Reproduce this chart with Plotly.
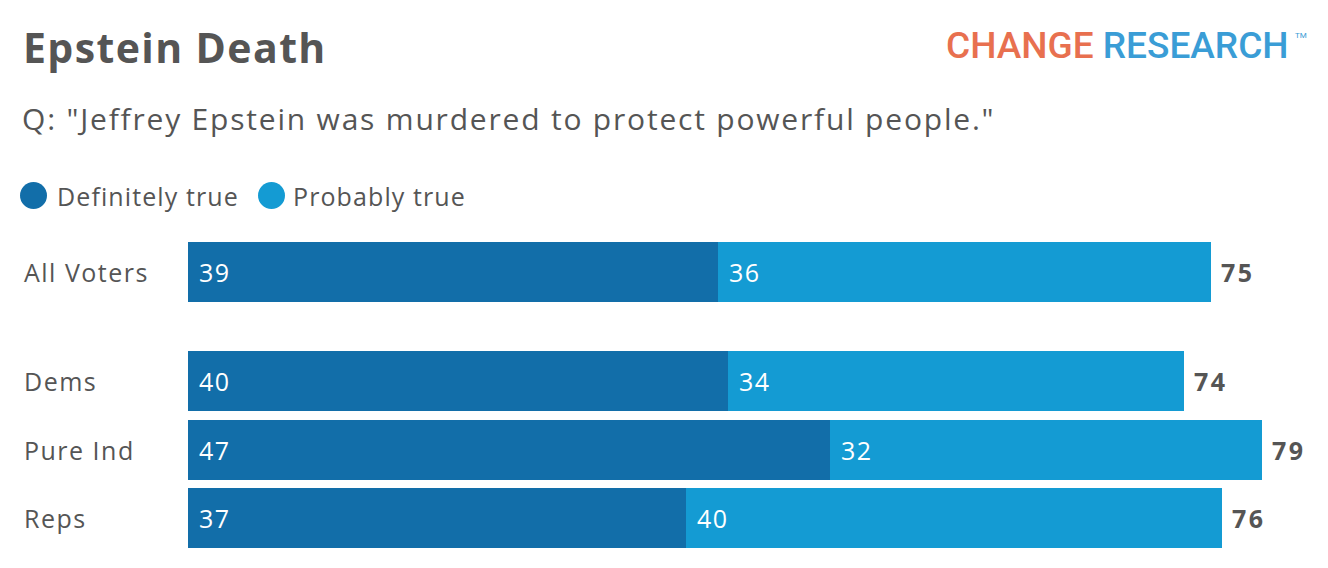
import plotly.graph_objects as go

# data (bar lengths, labels as printed)
groups = ["All Voters", "Dems", "Pure Ind", "Reps"]
definitely = [39.0, 39.7, 47.2, 36.6]
probably = [36.2, 33.5, 31.8, 39.4]
definitely_labels = ["39", "40", "47", "37"]
probably_labels = ["36", "34", "32", "40"]
total_labels = ["75", "74", "79", "76"]
series_names = ["Definitely true", "Probably true"]

# layout helpers
row_pos = [0, 1.6, 2.6, 3.6]   # extra gap after All Voters
W, H = 1328, 568
ML, MR, MT, MB = 188, 52, 238, 16
plot_w = W - ML - MR
plot_h = H - MT - MB

DARK = "#126EA9"
LIGHT = "#149BD3"
GRAY = "#555555"
FONT = "Open Sans"


def px_x(px):
    return (px - ML) / plot_w


def px_y(py):
    return (H - MB - py) / plot_h


def spaced(s, ls):
    # the reference face is wider than Open Sans, so open it up a bit
    return "<span style='letter-spacing:%.1fpx'>%s</span>" % (ls, s)


fig = go.Figure()
fig.add_trace(go.Bar(y=row_pos, x=definitely, orientation="h", name=series_names[0],
                     marker=dict(color=DARK, line=dict(width=0)), width=0.876,
                     hoverinfo="skip", showlegend=False))
fig.add_trace(go.Bar(y=row_pos, x=probably, orientation="h", name=series_names[1],
                     marker=dict(color=LIGHT, line=dict(width=0)), width=0.876,
                     hoverinfo="skip", showlegend=False))

ann = []
for i, g in enumerate(groups):
    y = row_pos[i]
    ann.append(dict(x=px_x(22), xref="paper", y=y, yref="y", text=spaced(g, 1.5), showarrow=False,
                    xanchor="left", yanchor="middle",
                    font=dict(family=FONT, size=25, color=GRAY)))
    ann.append(dict(x=0, y=y, text=spaced(definitely_labels[i], 1.5), showarrow=False,
                    xanchor="left", yanchor="middle", xshift=9,
                    font=dict(family=FONT, size=25, color="white")))
    ann.append(dict(x=definitely[i], y=y, text=spaced(probably_labels[i], 1.5), showarrow=False,
                    xanchor="left", yanchor="middle", xshift=9,
                    font=dict(family=FONT, size=25, color="white")))
    ann.append(dict(x=definitely[i] + probably[i], y=y,
                    text="<b>%s</b>" % spaced(total_labels[i], 2.5),
                    showarrow=False, xanchor="left", yanchor="middle", xshift=8,
                    font=dict(family=FONT, size=25, color=GRAY)))

# title, question, logo
ann.append(dict(x=px_x(21), y=px_y(47), xref="paper", yref="paper",
                text="<b>%s</b>" % spaced("Epstein Death", 1.4),
                showarrow=False, xanchor="left", yanchor="middle",
                font=dict(family=FONT, size=41, color=GRAY)))
ann.append(dict(x=px_x(20), y=px_y(119), xref="paper", yref="paper",
                text=spaced('Q: "Jeffrey Epstein was murdered to protect powerful people."', 1.8),
                showarrow=False, xanchor="left", yanchor="middle",
                font=dict(family=FONT, size=30, color=GRAY)))
ann.append(dict(x=px_x(1291), y=px_y(45), xref="paper", yref="paper",
                text="<span style='color:#E8704F'>CHANGE</span> <span style='color:#3A9DD6'>RESEARCH</span>",
                showarrow=False, xanchor="right", yanchor="middle",
                font=dict(family="Roboto", size=37, weight=500)))
ann.append(dict(x=px_x(1293), y=px_y(35), xref="paper", yref="paper", text="TM",
                showarrow=False, xanchor="left", yanchor="middle",
                font=dict(family="Roboto", size=8, color="#3A9DD6")))

# legend
shapes = []
leg = [(20, 55), (258, 291)]
for (cx, tx), name, col in zip(leg, series_names, [DARK, LIGHT]):
    shapes.append(dict(type="circle", xref="paper", yref="paper",
                       x0=px_x(cx), x1=px_x(cx + 27), y0=px_y(209), y1=px_y(182),
                       fillcolor=col, line=dict(width=0)))
    ann.append(dict(x=px_x(tx), y=px_y(196), xref="paper", yref="paper", text=spaced(name, 1.1),
                    showarrow=False, xanchor="left", yanchor="middle",
                    font=dict(family=FONT, size=25, color=GRAY)))

fig.update_layout(
    width=W, height=H, barmode="stack", bargap=0,
    margin=dict(l=ML, r=MR, t=MT, b=MB, pad=0),
    paper_bgcolor="white", plot_bgcolor="white",
    xaxis=dict(range=[0, 80], visible=False, fixedrange=True),
    yaxis=dict(range=[4.1, -0.5], visible=False, fixedrange=True),
    annotations=ann, shapes=shapes, showlegend=False,
)
fig.write_html("out.html", config={"displayModeBar": False},
               post_script="document.body.style.margin='0';")
